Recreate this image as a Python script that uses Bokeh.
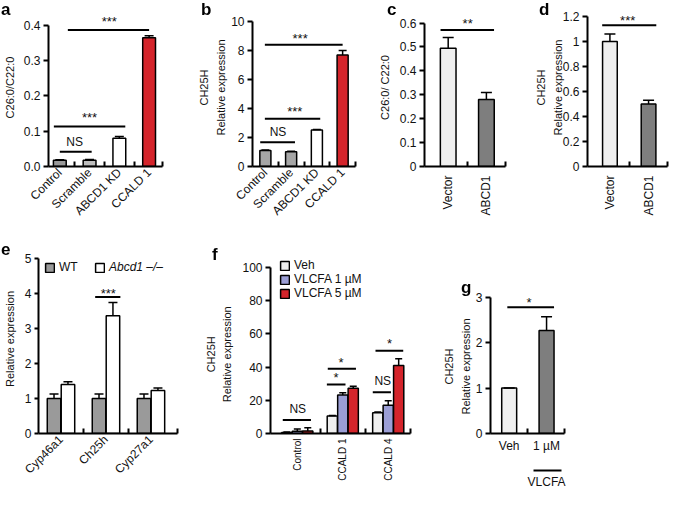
import math
from bokeh.plotting import figure
from bokeh.models import (ColumnDataSource, FixedTicker, Range1d, LinearAxis, Div,
                          Whisker, TeeHead, Legend, LegendItem, CustomJSTickFormatter)
from bokeh.layouts import row, column
from bokeh.embed import file_html
from bokeh.resources import INLINE
from bokeh.core.properties import value

# ---------------- data ----------------
a_labels = ["Control", "Scramble", "ABCD1 KD", "CCALD 1"]
a_values = [0.018, 0.018, 0.080, 0.364]
a_errors = [0.001, 0.002, 0.005, 0.006]
a_yticks = [0.0, 0.1, 0.2, 0.3, 0.4]
a_yticklabels = ["0.0", "0.1", "0.2", "0.3", "0.4"]

b_labels = ["Control", "Scramble", "ABCD1 KD", "CCALD 1"]
b_values = [1.10, 1.02, 2.52, 7.70]
b_errors = [0.03, 0.03, 0.04, 0.30]
b_yticks = [0, 2, 4, 6, 8, 10]
b_yticklabels = ["0", "2", "4", "6", "8", "10"]

c_labels = ["Vector", "ABCD1"]
c_values = [0.495, 0.280]
c_errors = [0.045, 0.030]
c_yticks = [0, 0.1, 0.2, 0.3, 0.4, 0.5, 0.6]
c_yticklabels = ["0", "0.1", "0.2", "0.3", "0.4", "0.5", "0.6"]

d_labels = ["Vector", "ABCD1"]
d_values = [1.00, 0.50]
d_errors = [0.06, 0.03]
d_yticks = [0, 0.2, 0.4, 0.6, 0.8, 1.0, 1.2]
d_yticklabels = ["0", "0.2", "0.4", "0.6", "0.8", "1", "1.2"]

e_genes = ["Cyp46a1", "Ch25h", "Cyp27a1"]
e_wt = [1.00, 1.00, 1.00]
e_wt_err = [0.13, 0.13, 0.13]
e_ko = [1.40, 3.37, 1.23]
e_ko_err = [0.08, 0.38, 0.07]
e_yticks = [0, 1, 2, 3, 4, 5]
e_yticklabels = ["0", "1", "2", "3", "4", "5"]

f_groups = ["Control", "CCALD 1", "CCALD 4"]
f_veh = [0.6, 10.5, 12.5]
f_veh_err = [0.3, 0.4, 0.4]
f_v1 = [1.4, 23.2, 17.0]
f_v1_err = [1.3, 1.3, 2.7]
f_v5 = [1.5, 27.2, 41.0]
f_v5_err = [2.0, 1.3, 4.0]
f_yticks = [0, 20, 40, 60, 80, 100]
f_yticklabels = ["0", "20", "40", "60", "80", "100"]

g_labels = ["Veh", "1 \u00b5M"]
g_values = [1.00, 2.27]
g_errors = [0.00, 0.30]
g_yticks = [0, 1, 2, 3]
g_yticklabels = ["0", "1", "2", "3"]

panel_letters = ["a", "b", "c", "d", "e", "f", "g"]

# significance annotations: line from x0 to x1 at height y, text at (xt, yt)
a_sig = dict(x0=[1.0, 0.8, 1.27], x1=[2.07, 3.2, 4.0], y=[0.042, 0.113, 0.386],
             xt=[1.5, 2.0, 2.66], yt=[0.068, 0.148, 0.42], text=["NS", "***", "***"])
b_sig = dict(x0=[0.8, 0.98, 0.98], x1=[2.15, 3.13, 4.0], y=[1.68, 3.29, 8.4],
             xt=[1.49, 2.14, 2.35], yt=[2.4, 4.0, 9.05], text=["NS", "***", "***"])
c_sig = dict(x0=[0.8], x1=[2.2], y=[0.571], xt=[1.51], yt=[0.61], text=["**"])
d_sig = dict(x0=[0.8], x1=[2.2], y=[1.13], xt=[1.46], yt=[1.19], text=["***"])
e_sig = dict(x0=[1.76], x1=[2.32], y=[3.91], xt=[2.05], yt=[4.1], text=["***"])
f_sig = dict(x0=[0.68, 1.65, 1.67, 2.66, 2.72], x1=[1.30, 2.06, 2.29, 3.06, 3.33],
             y=[8.2, 29.5, 39.0, 24.8, 49.9], xt=[1.01, 1.85, 1.96, 2.88, 3.03],
             yt=[14.7, 35.4, 44.6, 31.4, 56.2], text=["NS", "*", "*", "NS", "*"])
g_sig = dict(x0=[0.95], x1=[2.2], y=[2.78], xt=[1.53], yt=[2.96], text=["*"])

# ---------------- styles ----------------
FONT = "Liberation Sans"
TXT = "#111111"
GRAY = "#9a9a9a"
GRAY_L = "#bdbdbd"
GRAY_B = "#a6a6a6"
RED = "#d4242b"
WHITE = "#ffffff"
LIGHT = "#efefef"
DARK = "#7e7e7e"
LAV = "#9b9ed5"
NBSP = "\u00a0"

# page positions (left, baseline) of the panel letters
letter_pos = [(1, 15), (201, 15), (387, 15), (539, 15), (1, 255), (212, 260), (461, 293)]


def fmt(ticks, labels):
    return CustomJSTickFormatter(
        args=dict(tv=list(ticks), tl=list(labels)),
        code="for (let i = 0; i < tv.length; i++) { if (Math.abs(tv[i] - tick) < 1e-6) return tl[i]; } return '';")


def make_fig(width, height, bl, br, bt, bb, xr, yr):
    p = figure(width=width, height=height, x_range=Range1d(*xr), y_range=Range1d(*yr),
               min_border_left=bl, min_border_right=br, min_border_top=bt, min_border_bottom=bb,
               output_backend="svg", toolbar_location=None, x_axis_type=None, y_axis_type=None,
               title=None)
    p.outline_line_color = None
    p.background_fill_color = "white"
    p.border_fill_color = "white"
    return p


def style_axis(ax, size="12px"):
    ax.axis_line_width = 2
    ax.axis_line_color = "black"
    ax.major_tick_line_width = 2
    ax.minor_tick_line_width = 2
    ax.major_label_text_font = FONT
    ax.major_label_text_font_size = size
    ax.major_label_text_color = TXT
    ax.axis_label_text_font = FONT
    ax.axis_label_text_font_style = "normal"
    ax.axis_label_text_font_size = "11px"
    ax.axis_label_text_color = TXT
    ax.axis_label_text_line_height = 1.4


def add_yaxis(p, ticks, labels, label, standoff):
    ax = LinearAxis(ticker=FixedTicker(ticks=ticks), formatter=fmt(ticks, labels),
                    bounds=(0, ticks[-1]), axis_label=label)
    style_axis(ax)
    ax.major_tick_out = 5
    ax.major_tick_in = 0
    ax.major_label_standoff = 3
    ax.axis_label_standoff = standoff
    p.add_layout(ax, "left")
    return ax


def add_xaxis(p, centers, labels, minor, orientation, size, standoff):
    ax = LinearAxis(ticker=FixedTicker(ticks=centers, minor_ticks=minor),
                    formatter=fmt(centers, labels))
    style_axis(ax, size)
    ax.major_tick_in = 0
    ax.major_tick_out = 0
    ax.minor_tick_in = 5
    ax.minor_tick_out = 0
    ax.major_label_orientation = orientation
    ax.major_label_standoff = standoff
    p.add_layout(ax, "below")
    return ax


def bars(p, xs, vals, errs, colors, width, cap):
    src = ColumnDataSource(dict(x=list(xs), top=list(vals),
                                upper=[v + e for v, e in zip(vals, errs)],
                                color=list(colors)))
    r = p.vbar(x="x", top="top", bottom=0, width=width, fill_color="color",
               line_color="black", line_width=1.5, source=src)
    w = Whisker(base="x", lower="top", upper="upper", source=src, dimension="height",
                line_width=1.5, line_color="black",
                upper_head=TeeHead(size=cap, line_width=1.5, line_color="black"),
                lower_head=None, level="overlay")
    p.add_layout(w)
    return r


def sig(p, d):
    sizes = ["12px" if t == "NS" else "13px" for t in d["text"]]
    dy = [0 if t == "NS" else 3 for t in d["text"]]
    p.segment(x0=d["x0"], y0=d["y"], x1=d["x1"], y1=d["y"], line_width=2, line_color="black")
    src = ColumnDataSource(dict(x=d["xt"], y=d["yt"], text=d["text"], size=sizes, dy=dy))
    p.text(x="x", y="y", text="text", text_font=value(FONT), text_font_size="size",
           y_offset="dy", text_align="center", text_baseline="middle", text_color=TXT,
           source=src)


def make_legend(items, loc, orient, style="normal", spacing=1):
    lg = Legend(items=items, location=loc, orientation=orient)
    lg.border_line_color = None
    lg.background_fill_alpha = 0
    lg.padding = 0
    lg.margin = 0
    lg.spacing = spacing
    lg.glyph_width = 11
    lg.glyph_height = 11
    lg.label_height = 11
    lg.label_standoff = 4
    lg.label_text_font = FONT
    lg.label_text_font_size = "12px"
    lg.label_text_line_height = 1.0
    lg.label_text_font_style = style
    lg.label_text_color = TXT
    return lg


def two_line(l1, l2, pad):
    # axis title lines; non-breaking spaces at the top end move the centred title down
    return l1 + NBSP * pad + "\n" + l2 + NBSP * pad


TOP_H, TOP_BT, TOP_BB = 232, 8, 66
BOT_H, BOT_BT, BOT_BB = 259, 12, 50

# ---------------- panel a ----------------
xa = [1, 2, 3, 4]
pa = make_fig(177, TOP_H, 45, 15, TOP_BT, TOP_BB, (0.62, 4.45), (0, 0.447))
bars(pa, xa, a_values, a_errors, [GRAY, GRAY_L, WHITE, RED], 0.43, 9)
sig(pa, a_sig)
add_yaxis(pa, a_yticks, a_yticklabels, "C26:0/C22:0", 5)
add_xaxis(pa, xa, a_labels, [1.5, 2.5, 3.5, 4.44], math.pi / 4, "12px", 4)

# ---------------- panel b ----------------
xb = [1, 2, 3, 4]
pb = make_fig(183, TOP_H, 75, 5, TOP_BT, TOP_BB, (0.5, 4.5), (0, 10.9))
bars(pb, xb, b_values, b_errors, [GRAY_B, GRAY_B, WHITE, RED], 0.43, 8)
sig(pb, b_sig)
add_yaxis(pb, b_yticks, b_yticklabels, "CH25H\nRelative expression", 1)
add_xaxis(pb, xb, b_labels, [1.5, 2.5, 3.5, 4.49], math.pi / 4, "12px", 4)

# ---------------- panel c ----------------
xc = [1, 2]
pc = make_fig(149, TOP_H, 64, 4, TOP_BT, TOP_BB, (0.38, 2.5), (0, 0.661))
bars(pc, xc, c_values, c_errors, [LIGHT, DARK], 0.41, 11)
sig(pc, c_sig)
add_yaxis(pc, c_yticks, c_yticklabels, "C26:0/ C22:0", 6)
add_xaxis(pc, xc, c_labels, [1.5, 2.49], math.pi / 2, "12px", 9)

# ---------------- panel d ----------------
xd = [1, 2]
pd_ = make_fig(160, TOP_H, 78, 2, TOP_BT, TOP_BB, (0.42, 2.49), (0, 1.264))
bars(pd_, xd, d_values, d_errors, [LIGHT, DARK], 0.38, 11)
sig(pd_, d_sig)
add_yaxis(pd_, d_yticks, d_yticklabels, "CH25H\nRelative expression", -4)
add_xaxis(pd_, xd, d_labels, [1.5, 2.48], math.pi / 2, "12px", 9)

# ---------------- panel e ----------------
xe = [1, 2, 3]
pe = make_fig(192, BOT_H, 33, 15, BOT_BT, BOT_BB, (0.5, 3.59), (0, 5.41))
r_wt = bars(pe, [x - 0.155 for x in xe], e_wt, e_wt_err, [GRAY] * 3, 0.3, 9)
r_ko = bars(pe, [x + 0.155 for x in xe], e_ko, e_ko_err, [WHITE] * 3, 0.3, 9)
sig(pe, e_sig)
ey = add_yaxis(pe, e_yticks, e_yticklabels, "Relative expression", 6)
ey.major_tick_out = 4
add_xaxis(pe, xe, e_genes, [1.5, 2.5, 3.58], math.pi / 4, "12px", 4)
pe.add_layout(make_legend([LegendItem(label=value("WT"), renderers=[r_wt])],
                          (6, 159), "horizontal"), "center")
pe.add_layout(make_legend([LegendItem(label=value("Abcd1 \u2013/\u2013"), renderers=[r_ko])],
                          (56, 159), "horizontal", "italic"), "center")

# ---------------- panel f ----------------
xf = [1, 2, 3]
pf = make_fig(238, BOT_H, 78, 20, BOT_BT, BOT_BB, (0.41, 3.49), (0, 113.9))
r_veh = bars(pf, [x - 0.23 for x in xf], f_veh, f_veh_err, [LIGHT] * 3, 0.225, 7)
r_v1 = bars(pf, xf, f_v1, f_v1_err, [LAV] * 3, 0.225, 7)
r_v5 = bars(pf, [x + 0.23 for x in xf], f_v5, f_v5_err, [RED] * 3, 0.225, 7)
sig(pf, f_sig)
add_yaxis(pf, f_yticks, f_yticklabels, two_line("CH25H", "Relative expression", 10), 6)
add_xaxis(pf, xf, f_groups, [1.5, 2.5, 3.48], math.pi / 2, "10px", 5)
pf.add_layout(make_legend([LegendItem(label=value("Veh"), renderers=[r_veh]),
                           LegendItem(label=value("VLCFA 1 \u00b5M"), renderers=[r_v1]),
                           LegendItem(label=value("VLCFA 5 \u00b5M"), renderers=[r_v5])],
                          (9, 133), "vertical", spacing=-2), "center")

# ---------------- panel g ----------------
xg = [1, 2]
pg = make_fig(239, BOT_H, 60, 105, BOT_BT, BOT_BB, (0.5, 2.48), (0, 4.162))
bars(pg, xg, g_values, g_errors, [LIGHT, DARK], 0.4, 11)
sig(pg, g_sig)
add_yaxis(pg, g_yticks, g_yticklabels, two_line("CH25H", "Relative expression", 18), 1)
gx = add_xaxis(pg, xg, g_labels, [1.5, 2.47], "horizontal", "12px", 5)
gx.axis_label = " "
gx.axis_label_text_font_size = "6px"
gx.axis_label_standoff = 6
gx2 = LinearAxis(ticker=FixedTicker(ticks=[2.0]), formatter=fmt([2.0], ["VLCFA"]),
                 bounds=(1.65, 2.40))
style_axis(gx2)
gx2.major_tick_in = 0
gx2.major_tick_out = 0
gx2.major_label_standoff = 4
pg.add_layout(gx2, "below")

# ---------------- panel letters (fixed overlay, real text) ----------------
spans = "".join(
    '<span style="position:absolute;left:%dpx;top:%dpx;font-family:\'%s\';font-weight:bold;'
    'font-size:17px;line-height:17px;color:#000;white-space:nowrap;">%s</span>'
    % (x, y - 14, FONT, t) for t, (x, y) in zip(panel_letters, letter_pos))
letters_div = Div(text=spans, styles={"position": "fixed", "left": "0px", "top": "0px",
                                      "width": "0px", "height": "0px", "overflow": "visible",
                                      "margin": "0px", "padding": "0px", "z-index": "10"})

layout = column(row(pa, pb, pc, pd_), row(pe, pf, pg), letters_div)
open("out.html", "w").write(file_html(layout, INLINE))
